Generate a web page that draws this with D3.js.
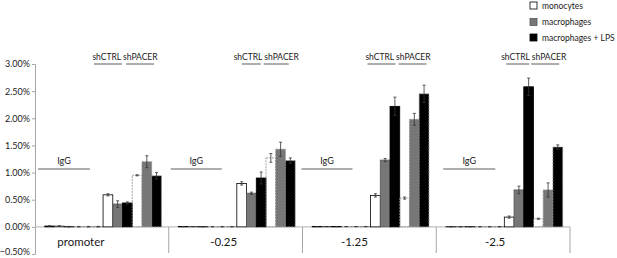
<!DOCTYPE html>
<html>
<head>
<meta charset="utf-8">
<script src="https://cdn.jsdelivr.net/npm/d3@7"></script>
<style>
  body { margin: 0; background: #fff; }
  text { font-family: Lato, "Open Sans", sans-serif; fill: #1a1a1a; }
</style>
</head>
<body>
<script>
let width = 617;
let height = 258;

// ---- data (values in %) ----
let categories = ["promoter", "-0.25", "-1.25", "-2.5"];
let cellTypes = ["monocytes", "macrophages", "macrophages + LPS"];

// 12 bar slots per category: IgG shCTRL, IgG shPACER, shCTRL, shPACER (x3 cell types)
let iggCtrlMono = [0.015, 0.005, 0.005, 0.003];
let iggCtrlMac = [0.015, 0.005, 0.005, 0.003];
let iggCtrlLps = [0.003, 0.003, 0.005, 0.003];
let iggPacerMono = [0.003, 0.003, 0.005, 0.003];
let iggPacerMac = [0.003, 0.003, 0.005, 0.003];
let iggPacerLps = [0.003, 0.003, 0.005, 0.003];
let shCtrlMono = [0.59, 0.80, 0.58, 0.18];
let shCtrlMac = [0.42, 0.62, 1.23, 0.68];
let shCtrlLps = [0.44, 0.90, 2.22, 2.58];
let shPacerMono = [0.95, 1.27, 0.53, 0.15];
let shPacerMac = [1.20, 1.43, 1.98, 0.68];
let shPacerLps = [0.94, 1.22, 2.45, 1.47];

let iggErr = [0.005, 0.002, 0.002, 0.002];
let shCtrlMonoErr = [0.02, 0.03, 0.03, 0.02];
let shCtrlMacErr = [0.06, 0.02, 0.03, 0.07];
let shCtrlLpsErr = [0.02, 0.11, 0.17, 0.16];
let shPacerMonoErr = [0.01, 0.08, 0.02, 0.01];
let shPacerMacErr = [0.11, 0.13, 0.11, 0.13];
let shPacerLpsErr = [0.06, 0.05, 0.16, 0.04];

let yTicks = [-0.5, 0, 0.5, 1, 1.5, 2, 2.5, 3];

let series = [
    {key: "iggCtrlMono", type: 0, dashed: false, values: iggCtrlMono, err: iggErr},
    {key: "iggCtrlMac", type: 1, dashed: false, values: iggCtrlMac, err: iggErr},
    {key: "iggCtrlLps", type: 2, dashed: false, values: iggCtrlLps, err: iggErr},
    {key: "iggPacerMono", type: 0, dashed: true, values: iggPacerMono, err: iggErr},
    {key: "iggPacerMac", type: 1, dashed: true, values: iggPacerMac, err: iggErr},
    {key: "iggPacerLps", type: 2, dashed: true, values: iggPacerLps, err: iggErr},
    {key: "shCtrlMono", type: 0, dashed: false, values: shCtrlMono, err: shCtrlMonoErr},
    {key: "shCtrlMac", type: 1, dashed: false, values: shCtrlMac, err: shCtrlMacErr},
    {key: "shCtrlLps", type: 2, dashed: false, values: shCtrlLps, err: shCtrlLpsErr},
    {key: "shPacerMono", type: 0, dashed: true, values: shPacerMono, err: shPacerMonoErr},
    {key: "shPacerMac", type: 1, dashed: true, values: shPacerMac, err: shPacerMacErr},
    {key: "shPacerLps", type: 2, dashed: true, values: shPacerLps, err: shPacerLpsErr}
];

// ---- layout ----
let fills = ["#ffffff", "#777777", "#000000"];
let strokes = ["#000000", "#555555", "#000000"];
let iggLine = [[3, 55], [2, 53], [-1, 50], [7, 59]];
let ctrlLine = [[59, 87], [73, 92], [65, 93], [70, 93]];
let pacerLine = [[91, 119], [95, 120], [96, 124], [95, 123]];
let labelShift = [-21, -12, -15, -8];

let svg = d3.select("body")
    .append("svg")
    .attr("width", width)
    .attr("height", height);

let x0 = d3.scaleBand().domain(categories).range([35, 570]);
let x1 = d3.scaleBand().domain(series.map(function(s) { return s.key; }))
    .range([0, x0.bandwidth()])
    .paddingInner(0)
    .paddingOuter(0.875)
    .align(0.57);
let y = d3.scaleLinear().domain([-0.5, 3]).range([254, 64]);

// y axis
let yAxis = svg.append("g")
    .attr("transform", "translate(35,0)")
    .call(d3.axisLeft(y).tickValues(yTicks).tickSize(3).tickPadding(2)
        .tickFormat(function(d) { return d3.format(".2f")(d) + "%"; }));
yAxis.select(".domain").attr("stroke", "#a6a6a6");
yAxis.selectAll(".tick line").attr("stroke", "#a6a6a6");
yAxis.selectAll(".tick text")
    .style("font-size", "9px")
    .attr("fill", "#1a1a1a")
    .attr("dy", function(d) { return d < 0 ? "0.1em" : "0.32em"; });

// zero line + category separators
svg.append("line")
    .attr("x1", 35).attr("x2", 570)
    .attr("y1", y(0)).attr("y2", y(0))
    .attr("stroke", "#c0c0c0").attr("stroke-width", 1.2);

let edges = categories.map(function(c) { return x0(c); }).concat([x0.range()[1]]);
svg.selectAll(".sep")
    .data(edges.slice(1))
    .enter().append("line")
    .attr("class", "sep")
    .attr("x1", function(d) { return d; }).attr("x2", function(d) { return d; })
    .attr("y1", y(0)).attr("y2", 253)
    .attr("stroke", "#a6a6a6");

// category labels
svg.selectAll(".catLabel")
    .data(categories)
    .enter().append("text")
    .attr("class", "catLabel")
    .attr("x", function(d, i) { return x0(d) + x0.bandwidth() / 2 + labelShift[i]; })
    .attr("y", 246)
    .attr("text-anchor", "middle")
    .style("font-size", "11.5px")
    .text(function(d) { return d; });

// bars
let groups = svg.selectAll(".cat")
    .data(categories)
    .enter().append("g")
    .attr("class", "cat")
    .attr("transform", function(d) { return "translate(" + x0(d) + ",0)"; });

let bars = groups.selectAll(".bar")
    .data(function(d, i) {
        return series.map(function(s) {
            return {key: s.key, type: s.type, dashed: s.dashed, value: s.values[i], err: s.err[i]};
        });
    })
    .enter().append("g")
    .attr("class", "bar");

bars.append("rect")
    .attr("x", function(d) { return x1(d.key); })
    .attr("y", function(d) { return y(d.value); })
    .attr("width", x1.bandwidth())
    .attr("height", function(d) { return y(0) - y(d.value); })
    .attr("fill", function(d) { return d.dashed && d.type == 0 ? "none" : fills[d.type]; })
    .attr("stroke", function(d) { return d.dashed ? "#8c8c8c" : strokes[d.type]; })
    .attr("stroke-width", 0.8)
    .attr("stroke-dasharray", function(d) { return d.dashed ? "2,1" : null; });

// error bars
let cap = 1.5;
bars.append("path")
    .attr("d", function(d) {
        let cx = x1(d.key) + x1.bandwidth() / 2;
        let lo = y(d.value - d.err), hi = y(d.value + d.err);
        return "M" + cx + "," + lo + "V" + hi +
            "M" + (cx - cap) + "," + hi + "H" + (cx + cap) +
            "M" + (cx - cap) + "," + lo + "H" + (cx + cap);
    })
    .attr("fill", "none")
    .attr("stroke", "#333333")
    .attr("stroke-width", 0.8);

// IgG annotations
groups.append("line")
    .attr("x1", function(d, i) { return iggLine[i][0]; })
    .attr("x2", function(d, i) { return iggLine[i][1]; })
    .attr("y1", 169).attr("y2", 169)
    .attr("stroke", "#333").attr("stroke-width", 0.8);
groups.append("text")
    .attr("x", function(d, i) { return (iggLine[i][0] + iggLine[i][1]) / 2; })
    .attr("y", 164)
    .attr("text-anchor", "middle")
    .style("font-size", "9px")
    .text("IgG");

// shCTRL / shPACER annotations
groups.append("line")
    .attr("x1", function(d, i) { return ctrlLine[i][0]; })
    .attr("x2", function(d, i) { return ctrlLine[i][1]; })
    .attr("y1", 64).attr("y2", 64)
    .attr("stroke", "#333").attr("stroke-width", 0.8);
groups.append("line")
    .attr("x1", function(d, i) { return pacerLine[i][0]; })
    .attr("x2", function(d, i) { return pacerLine[i][1]; })
    .attr("y1", 64).attr("y2", 64)
    .attr("stroke", "#333").attr("stroke-width", 0.8);
groups.append("text")
    .attr("x", function(d, i) { return (ctrlLine[i][0] + pacerLine[i][1]) / 2 + 1; })
    .attr("y", 60)
    .attr("text-anchor", "middle")
    .style("font-size", "8.5px")
    .text("shCTRL shPACER");

// legend
let legend = svg.append("g").attr("transform", "translate(530,0)");
let legendY = [5.5, 22, 37.5];
let items = legend.selectAll(".legendItem")
    .data(cellTypes)
    .enter().append("g")
    .attr("class", "legendItem")
    .attr("transform", function(d, i) { return "translate(0," + legendY[i] + ")"; });
items.append("rect")
    .attr("x", 0).attr("y", -3.5)
    .attr("width", 7).attr("height", 7)
    .attr("fill", function(d, i) { return fills[i]; })
    .attr("stroke", function(d, i) { return strokes[i]; })
    .attr("stroke-width", 0.8);
items.append("text")
    .attr("x", 12).attr("y", 3)
    .style("font-size", "8.5px")
    .text(function(d) { return d; });
</script>
</body>
</html>
